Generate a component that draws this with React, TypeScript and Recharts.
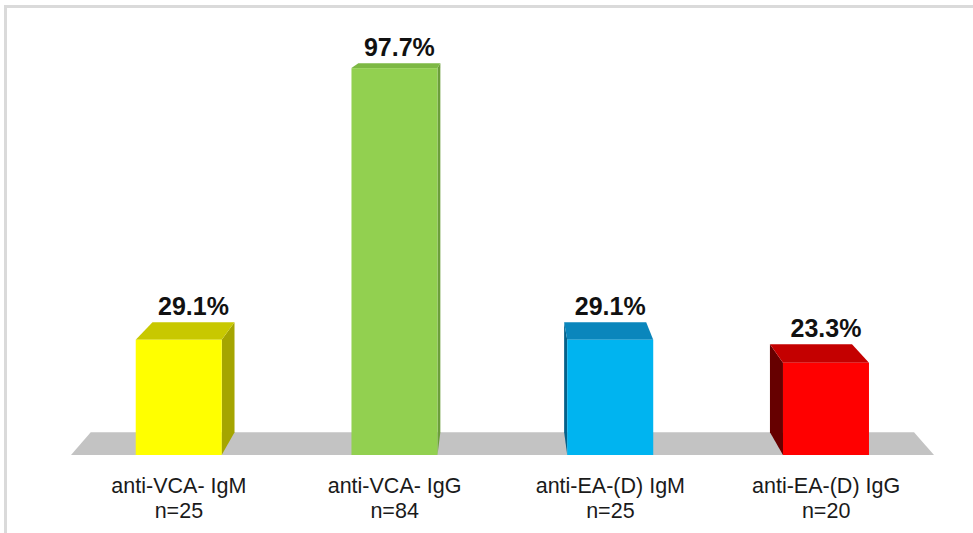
import React from 'react';
import { BarChart, Bar, XAxis, YAxis, ReferenceArea, LabelList } from 'recharts';

const categories = ['anti-VCA- IgM', 'anti-VCA- IgG', 'anti-EA-(D) IgM', 'anti-EA-(D) IgG'];
const sampleSizes = [25, 84, 25, 20];
const percentages = [29.1, 97.7, 29.1, 23.3];

const palette = [
  { front: '#FFFF00', top: '#C8C800', side: '#A5A500' },
  { front: '#92D050', top: '#7DB844', side: '#6B9E3A' },
  { front: '#00B4F0', top: '#0A86BC', side: '#04618A' },
  { front: '#FF0000', top: '#C40000', side: '#660000' },
];

const data = categories.map((name, i) => ({ name, n: sampleSizes[i], value: percentages[i] }));

const FONT = '"Liberation Sans", Arial, sans-serif';
// perspective vanishing point and depth factor
const VX = 500;
const VY = -40;
const K = 0.046;
const back = (px: number, py: number): [number, number] => [px + K * (VX - px), py + K * (VY - py)];
const pts = (arr: [number, number][]) => arr.map((p) => p.join(',')).join(' ');

const Floor = (props: any) => {
  const { x, y, width, height } = props;
  const yb = y + height;
  const fl: [number, number] = [x, yb];
  const fr: [number, number] = [x + width, yb];
  return <polygon points={pts([fl, fr, back(fr[0], fr[1]), back(fl[0], fl[1])])} fill="#C3C3C3" />;
};

const Bar3D = (props: any) => {
  const { x, y, width, height, index } = props;
  const c = palette[index % palette.length];
  const l = x;
  const r = x + width;
  const t = y;
  const b = y + height;
  const blt = back(l, t);
  const brt = back(r, t);
  const blb = back(l, b);
  const brb = back(r, b);
  return (
    <g>
      {brt[0] > r && <polygon points={pts([[r, t], [r, b], brb, brt])} fill={c.side} />}
      {blt[0] < l && <polygon points={pts([[l, t], [l, b], blb, blt])} fill={c.side} />}
      <polygon points={pts([[l, t], [r, t], brt, blt])} fill={c.top} />
      <rect x={l} y={t} width={width} height={height} fill={c.front} />
    </g>
  );
};

const ValueLabel = (props: any) => {
  const { x, y, width, value } = props;
  const frontCx = x + width / 2;
  const bl = back(x, y);
  const br = back(x + width, y);
  const backCx = (bl[0] + br[0]) / 2;
  const cx = Math.max(frontCx, backCx);
  return (
    <text x={cx} y={bl[1] - 7} textAnchor="middle" fontFamily={FONT} fontWeight="bold" fontSize={25} fill="#111">
      {`${value}%`}
    </text>
  );
};

const CategoryTick = (props: any) => {
  const { x, y, payload } = props;
  const idx = categories.indexOf(payload.value);
  return (
    <text x={x} textAnchor="middle" fontFamily={FONT} fontSize={21.5} fill="#1a1a1a">
      <tspan x={x} y={y + 30}>{payload.value}</tspan>
      <tspan x={x} y={y + 55}>{`n=${sampleSizes[idx]}`}</tspan>
    </text>
  );
};

export default function App() {
  return (
    <div style={{ position: 'absolute', left: 0, top: 0, width: 973, height: 533, background: '#fff' }}>
      <div
        style={{
          position: 'absolute',
          left: 4,
          top: 5,
          width: 969,
          height: 528,
          boxSizing: 'border-box',
          borderTop: '3px solid #DADADA',
          borderLeft: '3px solid #DADADA',
        }}
      />
      <div style={{ position: 'absolute', left: 0, top: 0 }}>
        <BarChart
          width={973}
          height={533}
          data={data}
          margin={{ top: 59, right: 39, bottom: 18, left: 71 }}
          barCategoryGap="30%"
        >
          <XAxis
            dataKey="name"
            axisLine={false}
            tickLine={false}
            interval={0}
            height={60}
            tick={<CategoryTick />}
          />
          <YAxis hide domain={[0, 100]} />
          <ReferenceArea
            x1={categories[0]}
            x2={categories[categories.length - 1]}
            y1={0}
            y2={5}
            ifOverflow="visible"
            shape={<Floor />}
          />
          <Bar dataKey="value" shape={<Bar3D />} isAnimationActive={false}>
            <LabelList dataKey="value" content={<ValueLabel />} />
          </Bar>
        </BarChart>
      </div>
    </div>
  );
}
